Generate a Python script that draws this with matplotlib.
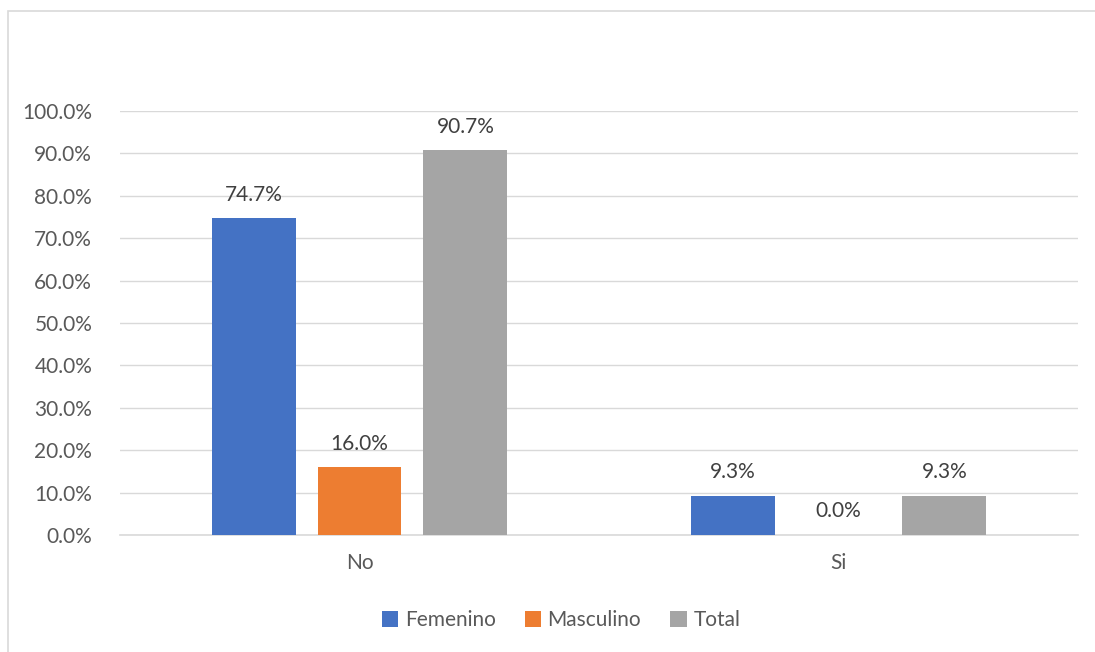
import numpy as np
import matplotlib.pyplot as plt
from matplotlib.patches import Rectangle

plt.rcParams['font.family'] = ['Lato', 'DejaVu Sans']

categories = ['No', 'Si']
series = ['Femenino', 'Masculino', 'Total']
femenino = [74.7, 9.3]
masculino = [16.0, 0.0]
total = [90.7, 9.3]
colors = ['#4472C4', '#ED7D31', '#A5A5A5']
yticks = np.arange(0, 101, 10)

fig = plt.figure(figsize=(10.95, 6.52), dpi=100)
ax = fig.add_axes([0.1096, 0.1794, 0.8749, 0.6504])

# light frame around the chart area
fig.patches.append(Rectangle((8 / 1095, -0.1), 1.2, (652 - 11) / 652 + 0.1,
                             transform=fig.transFigure, fill=False,
                             edgecolor='#D9D9D9', linewidth=1.2))

x = np.arange(len(categories))
width = 0.175
offset = 0.221
for i, (name, vals) in enumerate(zip(series, [femenino, masculino, total])):
    pos = x + (i - 1) * offset
    ax.bar(pos, vals, width, color=colors[i], label=name, zorder=3)
    for px, v in zip(pos, vals):
        ax.text(px, v + 3.2, f'{v:.1f}%', ha='center', va='bottom',
                fontsize=15, color='#404040')

ax.set_xlim(-0.5, 1.5)
ax.set_ylim(0, 100)
ax.set_yticks(yticks)
ax.set_yticklabels([f'{t:.1f}%' for t in yticks])
ax.set_xticks(x)
ax.set_xticklabels(categories)
ax.tick_params(length=0, labelsize=15, labelcolor='#595959')
ax.tick_params(axis='y', pad=20)
ax.tick_params(axis='x', pad=13)
ax.grid(axis='y', color='#D9D9D9', linewidth=1, zorder=0)
for s in ['top', 'right', 'left']:
    ax.spines[s].set_visible(False)
ax.spines['bottom'].set_color('#D9D9D9')
ax.spines['bottom'].set_linewidth(1.2)

leg = fig.legend(loc='center', bbox_to_anchor=(561 / 1095, 1 - 620 / 652),
                 ncol=3, frameon=False, fontsize=15, handlelength=0.8,
                 handleheight=0.8, handletextpad=0.3, columnspacing=1.4)
for t in leg.get_texts():
    t.set_color('#595959')

fig.savefig('out.png', dpi=100)
